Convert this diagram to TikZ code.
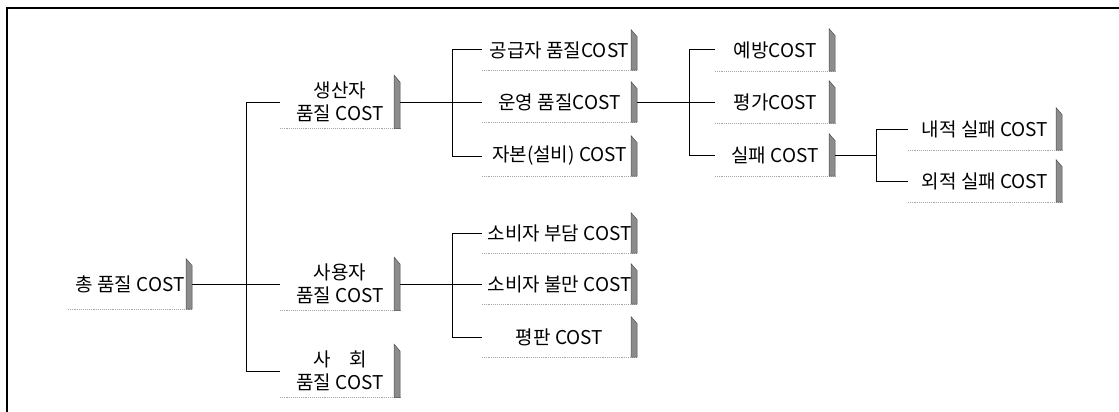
\documentclass[tikz,border=0pt]{standalone}
\usepackage{fontspec}
\setmainfont{Noto Sans CJK KR}
\usetikzlibrary{calc}
\tikzstyle{costbox}=[inner sep=0pt, align=center, font=\fontsize{19}{23}\selectfont]
\tikzstyle{wire}=[line width=1pt]
\tikzstyle{underrule}=[black!35, densely dotted, line width=0.9pt]
\tikzstyle{sidebar}=[fill=black!45, draw=black!70, line width=0.5pt]

\begin{document}
\begin{tikzpicture}[x=1pt, y=-1pt]

   \useasboundingbox (0,0) rectangle (1119,412);
   \draw[line width=1.3pt] (1119,8) -- (7,8) -- (7,412);

   % root
   \node[costbox, minimum width=124, minimum height=50] (tot) at (130,284) {총 품질 COST};

   % first level
   \foreach \pos/\name/\txt in {{(340,102)/prod/{생산자\\품질 COST}}, {(340,284)/user/{사용자\\품질 COST}}, {(340,371)/soc/{사\quad 회\\품질 COST}}}
        \node[costbox, minimum width=120, minimum height=53] (\name) at \pos {\txt};

   % second level
   \foreach \pos/\name/\txt in {{(559.5,50)/supp/{공급자 품질COST}}, {(559.5,102)/oper/{운영 품질COST}}, {(559.5,156)/capex/{자본(설비) COST}}, {(559.5,233)/burden/{소비자 부담 COST}}, {(559.5,284)/compl/{소비자 불만 COST}}, {(559.5,337)/repu/{평판 COST}}}
        \node[costbox, minimum width=155, minimum height=40] (\name) at \pos {\txt};

   % third level
   \foreach \pos/\name/\txt in {{(775,50)/prev/{예방COST}}, {(775,102)/appr/{평가COST}}, {(775,155)/fail/{실패 COST}}}
        \node[costbox, minimum width=120, minimum height=42] (\name) at \pos {\txt};

   % fourth level
   \foreach \pos/\name/\txt in {{(985,129)/intf/{내적 실패 COST}}, {(985,181)/extf/{외적 실패 COST}}}
        \node[costbox, minimum width=154, minimum height=42] (\name) at \pos {\txt};

   % underline and shaded edge of every box
   \foreach \n in {tot,prod,user,soc,supp,oper,capex,burden,compl,repu,prev,appr,fail,intf,extf} {
        \draw[underrule] (\n.south west) -- (\n.south east);
        \filldraw[sidebar] ($(\n.north east)+(-6,0)$) -- ($(\n.north east)+(0,7)$) -- (\n.south east) -- ++(-6,0) -- cycle;
   }

   % tree lines
   \coordinate (failjoin) at ($(intf.west)!0.5!(extf.west)+(-31,0)$);
   \draw[wire] (tot.east) -- (user.west);
   \draw[wire] (prod.west) -- ++(-33,0) |- (soc.west);
   \draw[wire] (prod.east) -- (oper.west);
   \draw[wire] (supp.west) -- ++(-29,0) |- (capex.west);
   \draw[wire] (user.east) -- (compl.west);
   \draw[wire] (burden.west) -- ++(-29,0) |- (repu.west);
   \draw[wire] (oper.east) -- (appr.west);
   \draw[wire] (prev.west) -- ++(-25,0) |- (fail.west);
   \draw[wire] (fail.east) -- (failjoin);
   \draw[wire] (intf.west) -- ++(-31,0) |- (extf.west);

\end{tikzpicture}
\end{document}
